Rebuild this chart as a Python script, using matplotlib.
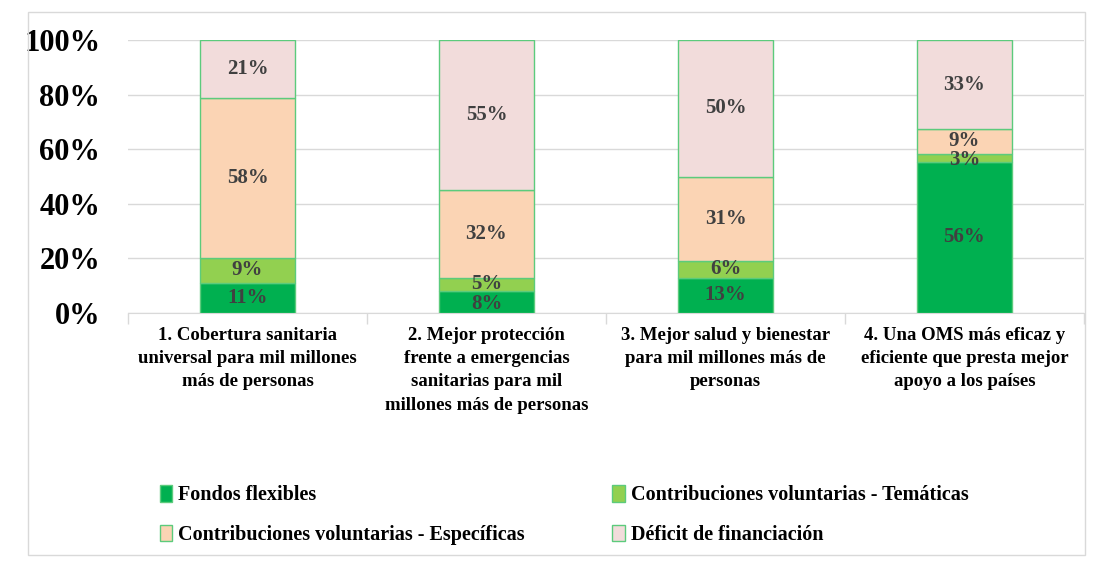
import numpy as np
import matplotlib.pyplot as plt
from matplotlib.patches import Rectangle

# data (percent labels)
categories = [
    "1. Cobertura sanitaria\nuniversal para mil millones\nmás de personas",
    "2. Mejor protección\nfrente a emergencias\nsanitarias para mil\nmillones más de personas",
    "3. Mejor salud y bienestar\npara mil millones más de\npersonas",
    "4. Una OMS más eficaz y\neficiente que presta mejor\napoyo a los países",
]
series_names = [
    "Fondos flexibles",
    "Contribuciones voluntarias - Temáticas",
    "Contribuciones voluntarias - Específicas",
    "Déficit de financiación",
]
fondos_flexibles = [11, 8, 13, 56]
tematicas = [9, 5, 6, 3]
especificas = [58, 32, 31, 9]
deficit = [21, 55, 50, 33]

colors = ["#00B050", "#92D050", "#FBD4B4", "#F2DCDB"]
edge = "#5CCB7C"

plt.rcParams['font.family'] = ['Liberation Serif', 'DejaVu Serif']

fig = plt.figure(figsize=(10.93, 5.62), dpi=100)
ax = fig.add_axes([128 / 1093, 1 - 313 / 562, (1084 - 128) / 1093, 273 / 562])

# outer chart border
fig.patches.append(Rectangle((28 / 1093, 1 - 555 / 562), 1057 / 1093, 543 / 562,
                             transform=fig.transFigure, fill=False,
                             edgecolor="#D9D9D9", linewidth=1))

data = np.array([fondos_flexibles, tematicas, especificas, deficit], dtype=float)
shares = data / data.sum(axis=0) * 100
x = np.arange(len(categories))
bottom = np.zeros(len(categories))
handles = []
for i, name in enumerate(series_names):
    bars = ax.bar(x, shares[i], 0.4, bottom=bottom, color=colors[i],
                  edgecolor=edge, linewidth=1, label=name, zorder=3)
    handles.append(bars)
    for j, b in enumerate(bars):
        yc = bottom[j] + shares[i][j] / 2
        if i == 1 and j == 3:
            yc -= 1
        if i == 0 and j == 1:
            yc -= 0.7
        ax.text(b.get_x() + b.get_width() / 2, yc, "%d%%" % data[i][j],
                ha="center", va="center", fontsize=15, fontweight="bold",
                color="#404040", zorder=4)
    bottom += shares[i]

ax.set_xlim(-0.5, 3.5)
ax.set_ylim(0, 100)
ax.set_yticks(np.arange(0, 101, 20))
ax.set_yticklabels(["%d%%" % v for v in range(0, 101, 20)],
                   fontsize=22, fontweight="bold")
ax.yaxis.grid(True, color="#D9D9D9", linewidth=1, zorder=0)
ax.tick_params(axis="y", length=0, pad=20)

ax.set_xticks(x)
ax.set_xticklabels(categories, fontsize=13.5, fontweight="bold",
                   linespacing=1.48, va="top")
ax.tick_params(axis="x", length=0, pad=10)
ax.set_xticks(np.arange(-0.5, 3.6, 1), minor=True)
ax.tick_params(axis="x", which="minor", length=8, color="#D9D9D9", width=1)

for s in ["top", "right", "left"]:
    ax.spines[s].set_visible(False)
ax.spines["bottom"].set_color("#D9D9D9")

order = [0, 2, 1, 3]
leg = fig.legend([handles[k] for k in order], [series_names[k] for k in order],
                 ncol=2, loc="upper left", bbox_to_anchor=(142 / 1093, 1 - 467 / 562),
                 frameon=False, prop={"size": 14.5, "weight": "bold"},
                 handlelength=0.6, handleheight=0.9, handletextpad=0.3,
                 columnspacing=4.35, labelspacing=0.95)

fig.savefig("out.png", dpi=100)
